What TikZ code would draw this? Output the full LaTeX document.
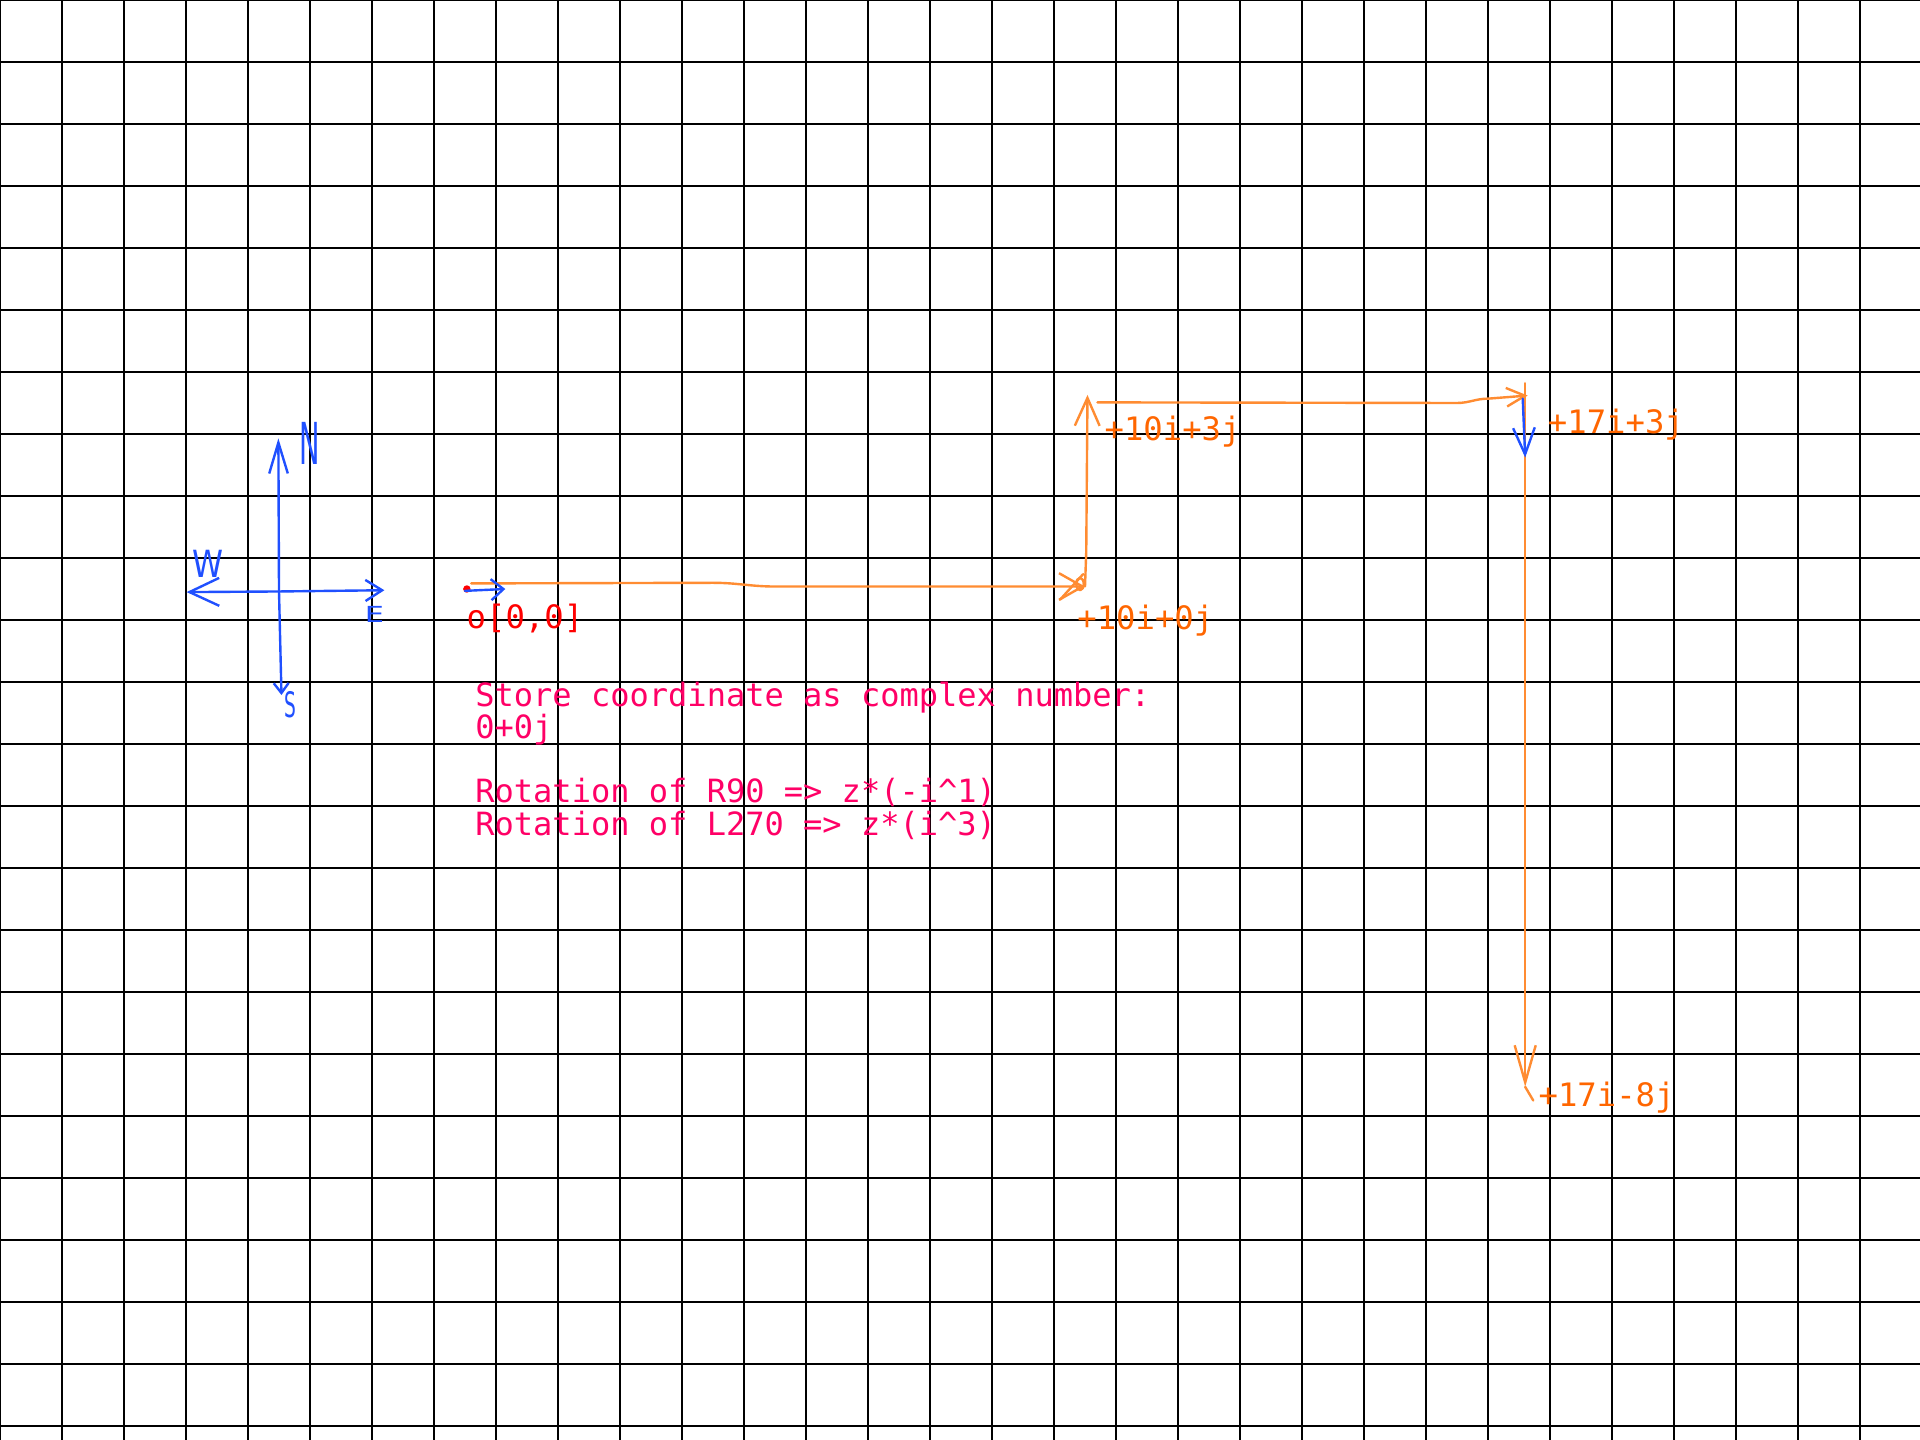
\documentclass[tikz,border=0pt]{standalone}
\usepackage{fontspec}
\setmonofont{DejaVu Sans Mono}
\setsansfont{DejaVu Sans}
\usetikzlibrary{arrows.meta}
\definecolor{penblue}{RGB}{32,80,255}
\definecolor{penorange}{RGB}{255,140,50}
\definecolor{inkorange}{RGB}{255,102,0}
\definecolor{inkpink}{RGB}{255,0,102}
\definecolor{inkred}{RGB}{255,0,0}

\begin{document}
\begin{tikzpicture}[
    gridline/.style={black, line width=1pt},
    pen/.style={line width=1.1pt, line cap=round, line join=round},
    barb/.style 2 args={-{Straight Barb[length=#1cm, width=#2cm]}},
    coordtext/.style={inner sep=0pt, anchor=base west, font=\ttfamily\fontsize{14.8}{15}\selectfont},
    notetext/.style={inner sep=0pt, anchor=base west, inkpink, font=\ttfamily\fontsize{14.7}{15}\selectfont},
    compassletter/.style={inner sep=0pt, penblue, font=\sffamily},
]
    \useasboundingbox (0,0) rectangle (30.968,-23.226);
    \fill[white] (0,0) rectangle (30.968,-23.226);
    \draw[gridline] (0,-23.226) grid (30.968,0);

    \begin{scope}[shift={(7.5,-9.5)}]
    % compass
    \coordinate (ctr) at (-3.0,-0.04);
    \coordinate (ntip) at (-3.01,2.43);
    \coordinate (stip) at (-2.96,-1.71);
    \coordinate (wtip) at (-4.49,-0.05);
    \coordinate (etip) at (-1.3,-0.02);
    \draw[pen, penblue, barb={0.5}{0.3}] (ctr) -- (ntip);
    \draw[pen, penblue, barb={0.16}{0.24}] (ctr) -- (stip);
    \draw[pen, penblue, barb={0.48}{0.45}] (ctr) -- (wtip);
    \draw[pen, penblue, barb={0.27}{0.34}] (ctr) -- (etip);
    \node[compassletter] (nlbl) at (-2.5,2.34) {\resizebox{0.33cm}{0.68cm}{N}};
    \node[compassletter] (wlbl) at (-4.15,0.41) {\resizebox{0.5cm}{0.44cm}{W}};
    \node[compassletter] (elbl) at (-1.46,-0.41) {\resizebox{0.31cm}{0.26cm}{E}};
    \node[compassletter] (slbl) at (-2.81,-1.86) {\resizebox{0.19cm}{0.42cm}{S}};

    % path of the ship
    \coordinate (o) at (0,0);
    \coordinate (p1) at (10,0.04);
    \coordinate (p2) at (10.04,3.13);
    \coordinate (p3) at (17.14,3.12);
    \coordinate (p4) at (17.1,-8.03);

    \fill[inkred] (0.03,0) circle (0.06);
    \draw[pen, penorange, barb={0.38}{0.43}] ([shift={(0.1,0.09)}]o) -- (4,0.1) to[out=0,in=180] (5,0.04) -- (p1);
    \draw[pen, penblue, barb={0.2}{0.34}] ([shift={(0,-0.03)}]o) -- (0.65,0);
    \draw[pen, penorange] (9.92,0.08) ellipse (0.06 and 0.1);
    \draw[pen, penorange] (9.6,-0.17) -- (9.97,0.24);
    \draw[pen, penorange, barb={0.45}{0.4}] (p1) -- (10.02,0.6) -- (p2);
    \draw[pen, penorange, barb={0.3}{0.3}] ([shift={(0.16,-0.12)}]p2) -- (16,3.0) to[out=0,in=180] (16.5,3.07) -- (p3);
    \draw[pen, penorange, barb={0.6}{0.34}] ([shift={(-0.04,0.2)}]p3) -- (p4);
    \draw[pen, penorange] (p4) -- (17.23,-8.25);
    \draw[pen, penblue, barb={0.43}{0.35}] ([shift={(-0.08,-0.05)}]p3) -- ([shift={(-0.04,-1.0)}]p3);

    \node[coordtext, inkred] (olbl) at (0.02,-0.63) {o[0,0]};
    \node[coordtext, inkorange] (p1lbl) at (9.87,-0.65) {+10i+0j};
    \node[coordtext, inkorange] (p2lbl) at (10.31,2.4) {+10i+3j};
    \node[coordtext, inkorange] (p3lbl) at (17.46,2.5) {+17i+3j};
    \node[coordtext, inkorange] (p4lbl) at (17.31,-8.34) {+17i-8j};

    % notes
    \node[notetext] (note1) at (0.16,-1.9) {Store coordinate as complex number:};
    \node[notetext] (note2) at (0.16,-2.41) {0+0j};
    \node[notetext] (note3) at (0.16,-3.45) {Rotation of R90 => z*(-i\textasciicircum 1)};
    \node[notetext] (note4) at (0.16,-3.97) {Rotation of L270 => z*(i\textasciicircum 3)};
    \end{scope}
\end{tikzpicture}
\end{document}
